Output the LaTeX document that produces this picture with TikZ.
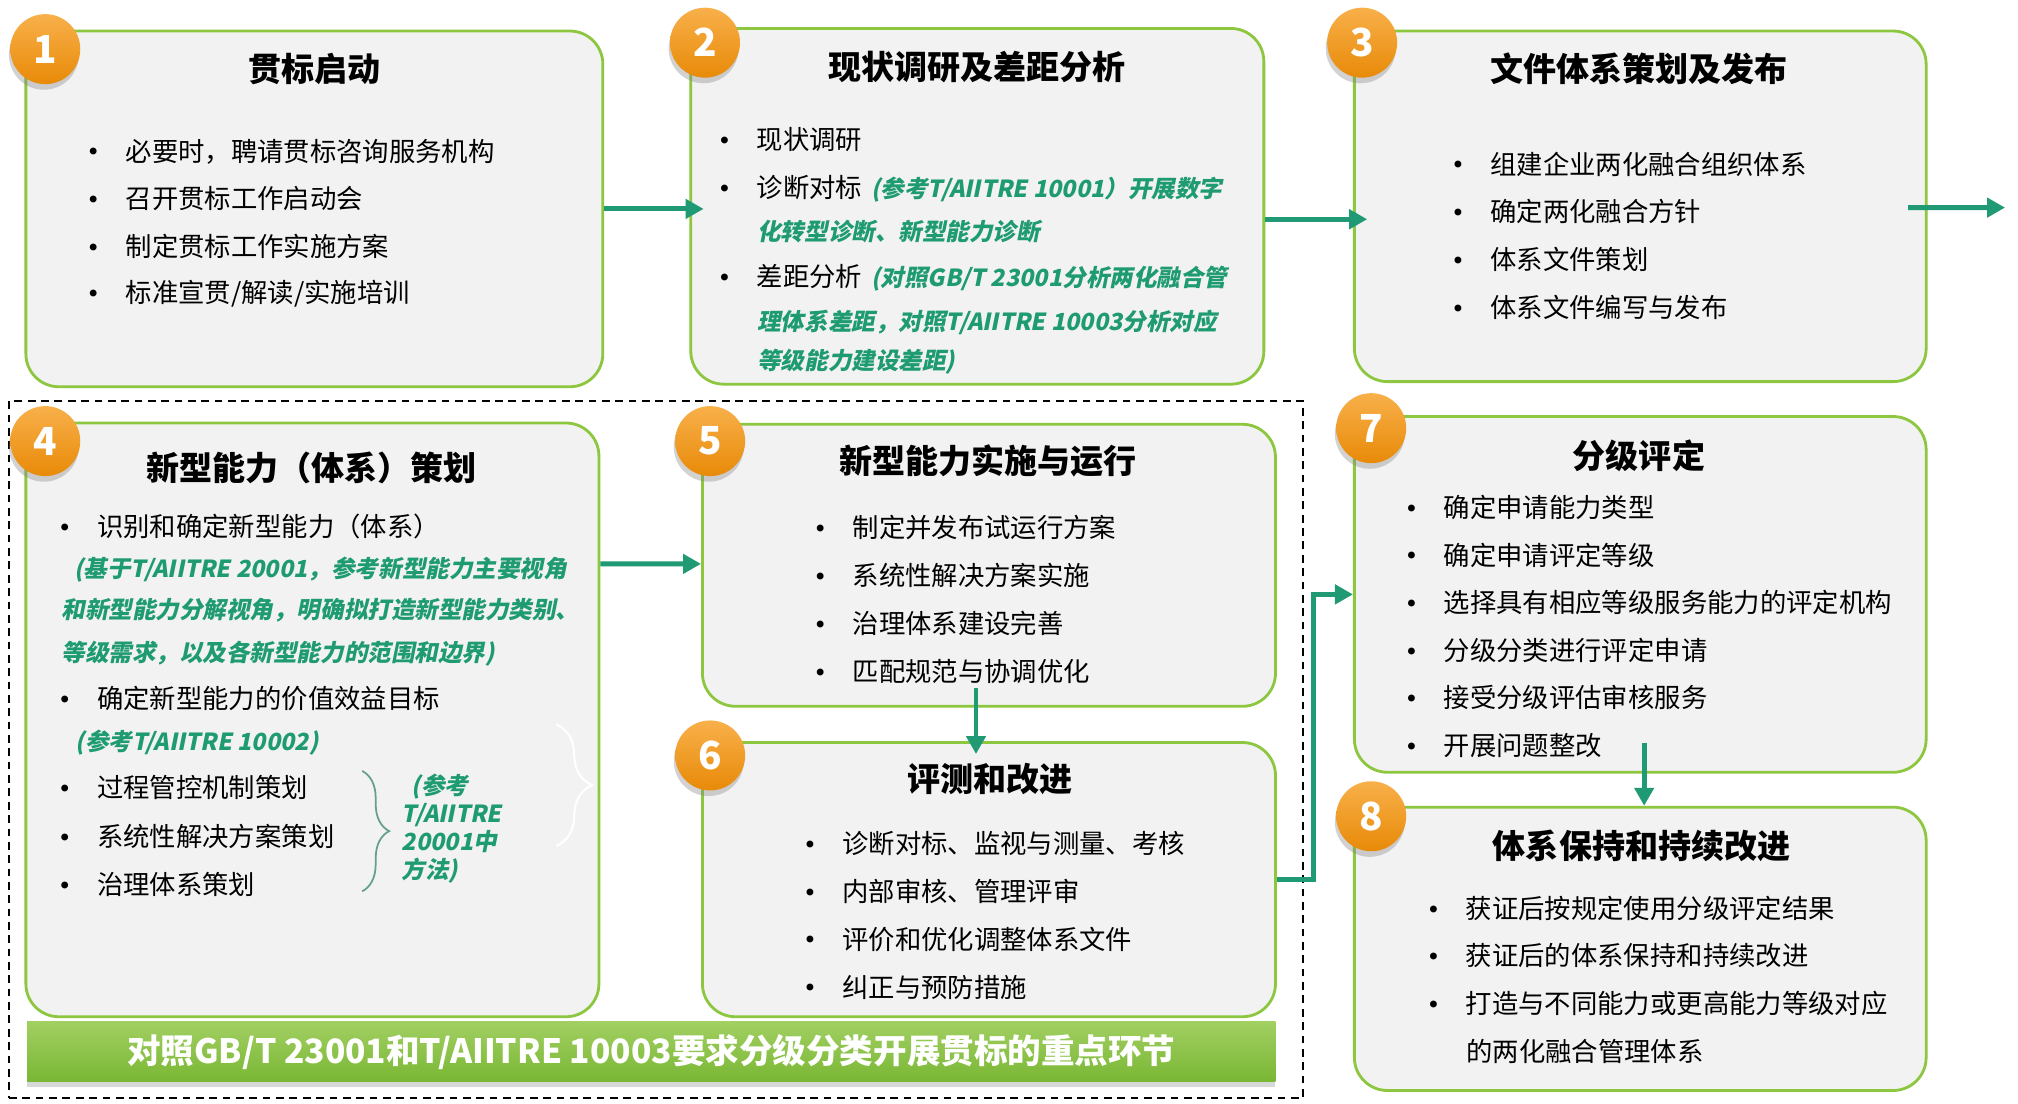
\documentclass[tikz,border=0pt]{standalone}
\usepackage{fontspec}
\setmainfont{Noto Sans CJK SC}
\newfontfamily\slfont[FakeSlant=0.2]{Noto Sans CJK SC}
\usetikzlibrary{positioning,fit,calc,shadows,arrows.meta,decorations.pathreplacing}
\definecolor{boxline}{RGB}{141,198,63}
\definecolor{boxfill}{RGB}{242,242,242}
\definecolor{flowc}{RGB}{31,154,116}
\definecolor{refc}{RGB}{30,155,112}
\definecolor{orangetop}{RGB}{248,176,74}
\definecolor{orangebot}{RGB}{232,138,8}
\definecolor{bartop}{RGB}{162,207,98}
\definecolor{barbot}{RGB}{121,183,52}
\definecolor{bracec}{RGB}{100,160,140}
\newcommand{\dotitem}{\makebox[0.37cm][l]{\raisebox{0.2em}{\scalebox{0.65}{$\bullet$}}}}
\newcommand{\reftext}[1]{{\slfont\bfseries\fontsize{6.7}{8}\selectfont\color{refc}#1}}
\begin{document}
\begin{tikzpicture}[x=0.012936cm, y=-0.012936cm,
    box/.style={draw=boxline, fill=boxfill, line width=0.8pt, rounded corners=0.33cm, inner sep=0},
    num/.style={circle, minimum size=0.7cm, inner sep=0, top color=orangetop, bottom color=orangebot,
      drop shadow={shadow xshift=-0.4pt, shadow yshift=-1.6pt, opacity=0.35},
      text=white, font=\bfseries\fontsize{11}{13}\selectfont},
    ttl/.style={inner sep=0, font=\bfseries\fontsize{9.4}{11}\selectfont},
    itm/.style={anchor=west, inner sep=0, font=\fontsize{7.5}{9}\selectfont},
    refline/.style={anchor=west, inner sep=0, text=refc, font=\slfont\bfseries\fontsize{6.7}{8}\selectfont},
    flow/.style={draw=flowc, line width=1.4pt, -{Triangle[length=0.18cm, width=0.19cm]}},
    bar/.style={inner sep=0, top color=bartop, bottom color=barbot,
      drop shadow={shadow xshift=0pt, shadow yshift=-1.6pt, opacity=0.3}}]
  \path[fill=white, use as bounding box] (0,0) rectangle (1560,853.4);

  \node[draw, dashed, dash pattern=on 2.2pt off 1.6pt, line width=0.6pt, inner sep=0, fit={(7,310) (1007,849)}] (grp) {};

  \node[box, fit={(20,24) (466,299)}] (b1) {};
  \node[box, fit={(534,22) (977,297)}] (b2) {};
  \node[box, fit={(1047,24) (1489,295)}] (b3) {};
  \node[box, fit={(20,327) (463,786)}] (b4) {};
  \node[box, fit={(543,328) (986,546)}] (b5) {};
  \node[box, fit={(543,574) (986,786)}] (b6) {};
  \node[box, fit={(1047,322) (1489,597)}] (b7) {};
  \node[box, fit={(1047,624) (1489,843)}] (b8) {};

  \node[bar, fit={(21,790) (986,836)}] (banner) {};
  \node[text=white, inner sep=0, font=\bfseries\fontsize{9.55}{12}\selectfont] (bantext) at (banner.center) {对照GB/T 23001和T/AIITRE 10003要求分级分类开展贯标的重点环节};

  \coordinate (next) at (1550,160.5);
  \draw[flow] (b1.east) -- ($(b1.east -| b2.west)+(11,0)$);
  \draw[flow] ($(b2.east)+(0,10)$) -- ($(b3.west)+(11,10)$);
  \draw[flow] ($(b3.east)+(-15,1)$) -- (next);
  \draw[flow] ($(b4.north east)+(0,110)$) -- ($(b5.north west)+(0,109)$);
  \draw[flow] ($(b5.south)+(-10,-15)$) -- ($(b6.north)+(-10,10)$);
  \draw[flow] (b6.east) -- ++(28,0) |- (b7.west);
  \draw[flow] ($(b7.south)+(3,-24)$) -- ($(b8.north)+(3,0)$);

  \node[num] (n1) at (35,38) {1};
  \node[num] (n2) at (545,33) {2};
  \node[num] (n3) at (1053,33) {3};
  \node[num] (n4) at (35,341) {4};
  \node[num] (n5) at (549,341) {5};
  \node[num] (n6) at (549,584) {6};
  \node[num] (n7) at (1060,331) {7};
  \node[num] (n8) at (1060,631) {8};

  \node[ttl] (t1) at (243,53) {贯标启动};
  \foreach \t [count=\i] in {必要时，聘请贯标咨询服务机构,召开贯标工作启动会,制定贯标工作实施方案,标准宣贯/解读/实施培训}
    \node[itm] (i1-\i) at (68,{80.3+36.7*\i}) {\dotitem\t};

  \node[ttl] (t2) at (755,52) {现状调研及差距分析};
  \node[itm] (i2-1) at (556,108) {\dotitem 现状调研};
  \node[itm] (i2-2) at (556,146) {\dotitem 诊断对标\hspace{0.09cm}\reftext{(参考T/AIITRE 10001）开展数字}};
  \node[refline] (r2-1) at (585,179) {化转型诊断、新型能力诊断};
  \node[itm] (i2-3) at (556,215) {\dotitem 差距分析\hspace{0.09cm}\reftext{(对照GB/T 23001分析两化融合管}};
  \node[refline] (r2-2) at (585,249) {理体系差距，对照T/AIITRE 10003分析对应};
  \node[refline] (r2-3) at (585,280) {等级能力建设差距)};

  \node[ttl] (t3) at (1267,53) {文件体系策划及发布};
  \foreach \t [count=\i] in {组建企业两化融合组织体系,确定两化融合方针,体系文件策划,体系文件编写与发布}
    \node[itm] (i3-\i) at (1123,{89.7+37*\i}) {\dotitem\t};

  \node[ttl] (t4) at (241,362) {新型能力（体系）策划};
  \node[itm] (i4-1) at (46,407) {\dotitem 识别和确定新型能力（体系）};
  \node[refline] (r4-1) at (57,440) {(基于T/AIITRE 20001，参考新型能力主要视角};
  \node[refline] (r4-2) at (47,472) {和新型能力分解视角，明确拟打造新型能力类别、};
  \node[refline] (r4-3) at (47,505) {等级需求，以及各新型能力的范围和边界)};
  \node[itm] (i4-2) at (46,540) {\dotitem 确定新型能力的价值效益目标};
  \node[refline] (r4-4) at (58,574) {(参考T/AIITRE 10002)};
  \foreach \t [count=\i from 3] in {过程管控机制策划,系统性解决方案策划,治理体系策划}
    \node[itm] (i4-\i) at (46,{609+37.5*(\i-3)}) {\dotitem\t};
  \draw[bracec, line width=0.5pt, decorate, decoration={brace, amplitude=0.27cm}] (280,596) -- (280,689);
  \draw[white, line width=0.6pt, decorate, decoration={brace, amplitude=0.36cm}] (430,560) -- (430,654);
  \node[refline, align=left] (r4-5) at (310,640.5) {\hspace*{0.1cm}(参考\\T/AIITRE\\20001中\\方法)};

  \node[ttl] (t5) at (764,356) {新型能力实施与运行};
  \foreach \t [count=\i] in {制定并发布试运行方案,系统性解决方案实施,治理体系建设完善,匹配规范与协调优化}
    \node[itm] (i5-\i) at (630,{371+37*\i}) {\dotitem\t};

  \node[ttl] (t6) at (765,602) {评测和改进};
  \foreach \t [count=\i] in {诊断对标、监视与测量、考核,内部审核、管理评审,评价和优化调整体系文件,纠正与预防措施}
    \node[itm] (i6-\i) at (622,{615+37*\i}) {\dotitem\t};

  \node[ttl] (t7) at (1267,352) {分级评定};
  \foreach \t [count=\i] in {确定申请能力类型,确定申请评定等级,选择具有相应等级服务能力的评定机构,分级分类进行评定申请,接受分级评估审核服务,开展问题整改}
    \node[itm] (i7-\i) at (1087,{355.5+36.8*\i}) {\dotitem\t};

  \node[ttl] (t8) at (1269,654) {体系保持和持续改进};
  \foreach \t [count=\i] in {获证后按规定使用分级评定结果,获证后的体系保持和持续改进,打造与不同能力或更高能力等级对应}
    \node[itm] (i8-\i) at (1104,{665.5+36.7*\i}) {\dotitem\t};
  \node[itm] (i8-4) at (1133,812.5) {的两化融合管理体系};
\end{tikzpicture}
\end{document}
